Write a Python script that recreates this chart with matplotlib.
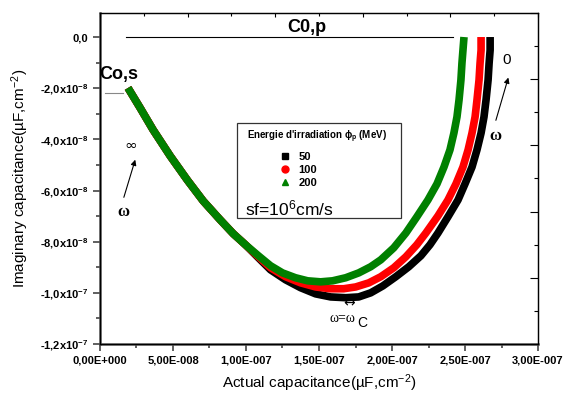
import matplotlib
matplotlib.use("Agg")
import matplotlib.pyplot as plt
from matplotlib.lines import Line2D
from matplotlib.patches import Rectangle
import numpy as np

plt.rcParams['font.family'] = ['Liberation Sans', 'DejaVu Sans']
plt.rcParams['mathtext.fontset'] = 'custom'
plt.rcParams['mathtext.rm'] = 'Liberation Sans'
plt.rcParams['mathtext.bf'] = 'Liberation Sans:bold'
plt.rcParams['mathtext.it'] = 'Liberation Sans:italic'

# values in units of 1e-8 uF/cm2
# common start shared by the three curves
x_common = [1.92, 2.75, 3.64, 4.81, 5.98, 7.07, 8.24, 9.13, 9.96]
y_common = [-1.99, -2.77, -3.63, -4.65, -5.59, -6.41, -7.15, -7.69, -8.12]

x_50 = [10.85, 11.68, 12.71, 13.74, 14.77, 15.80, 16.83, 17.72, 18.54, 19.37, 20.26,
        21.15, 21.98, 22.60, 23.15, 23.83, 24.52, 25.00, 25.48, 25.82, 26.10, 26.30,
        26.44, 26.58, 26.65, 26.72, 26.72]
y_50 = [-8.63, -9.10, -9.49, -9.80, -10.04, -10.16, -10.19, -10.16, -10.00, -9.73, -9.37,
        -8.98, -8.55, -8.12, -7.66, -7.03, -6.37, -5.74, -5.08, -4.41, -3.75, -3.12,
        -2.46, -1.68, -1.02, -0.51, 0.0]

x_100 = [10.85, 11.68, 12.71, 13.74, 14.77, 15.80, 16.69, 17.51, 18.41, 19.23, 20.12,
         20.95, 21.70, 22.32, 23.15, 23.83, 24.38, 24.86, 25.21, 25.48, 25.69, 25.82,
         25.96, 26.03, 26.10, 26.10]
y_100 = [-8.59, -9.02, -9.37, -9.61, -9.77, -9.84, -9.84, -9.77, -9.61, -9.37, -9.02,
         -8.59, -8.12, -7.66, -6.99, -6.37, -5.74, -5.08, -4.41, -3.75, -3.12, -2.46,
         -1.68, -1.02, -0.51, 0.0]

x_200 = [10.85, 11.68, 12.50, 13.39, 14.22, 15.11, 15.93, 16.83, 17.72, 18.54, 19.23,
         20.12, 20.95, 21.70, 22.46, 23.08, 23.56, 23.97, 24.24, 24.45, 24.59, 24.72,
         24.79, 24.86, 24.93]
y_200 = [-8.55, -8.94, -9.22, -9.41, -9.53, -9.57, -9.53, -9.41, -9.22, -8.98, -8.71,
         -8.24, -7.66, -7.03, -6.37, -5.74, -5.08, -4.41, -3.75, -3.12, -2.46, -1.68,
         -1.02, -0.51, 0.0]

energies = ['50', '100', '200']
colors = ['black', 'red', 'green']
markers = ['s', 'o', '^']

xticks = [0, 5, 10, 15, 20, 25, 30]
xtick_labels = ['0,00E+000', '5,00E-008', '1,00E-007', '1,50E-007',
                '2,00E-007', '2,50E-007', '3,00E-007']
yticks = [0, -2, -4, -6, -8, -10, -12]
ytick_labels = ['0,0', r'-2,0x10$^{\mathbf{-8}}$', r'-4,0x10$^{\mathbf{-8}}$',
                r'-6,0x10$^{\mathbf{-8}}$', r'-8,0x10$^{\mathbf{-8}}$',
                r'-1,0x10$^{\mathbf{-7}}$', r'-1,2x10$^{\mathbf{-7}}$']

sc = 1e-8
series = [(x_50, y_50), (x_100, y_100), (x_200, y_200)]

fig = plt.figure(figsize=(5.70, 3.97), dpi=100)
ax = fig.add_axes([0.1754, 0.1335, 0.7685, 0.8338])

for (xs, ys), c in zip(series, colors):
    xx = np.array(x_common + xs) * sc
    yy = np.array(y_common + ys) * sc
    ax.plot(xx, yy, color=c, lw=5.5, solid_capstyle='butt', solid_joinstyle='round')

ax.set_xlim(0, 30 * sc)
ax.set_ylim(-12 * sc, 0.94 * sc)
ax.set_xticks(np.array(xticks) * sc)
ax.set_xticklabels(xtick_labels, fontweight='bold', fontsize=8)
ax.set_yticks(np.array(yticks) * sc)
ax.set_yticklabels(ytick_labels, fontweight='bold', fontsize=8)
ax.set_xticks(np.arange(2.5, 30, 5) * sc, minor=True)
ax.set_yticks(np.arange(-11, 1, 2) * sc, minor=True)
ax.tick_params(which='major', direction='out', length=5, width=1.2, color='#444444')
ax.tick_params(which='minor', direction='out', length=3, width=1.2, color='#444444')
for s in ['left', 'bottom']:
    ax.spines[s].set_linewidth(1.8)
    ax.spines[s].set_color('#555555')
for s in ['top', 'right']:
    ax.spines[s].set_linewidth(0.9)

# top and right frames with their own ticks (inward, no labels)
axt = ax.twiny()
axt.set_xlim(0, 10)
axt.set_xticks(range(0, 11, 2))
axt.set_xticks(range(1, 11, 2), minor=True)
axt.tick_params(which='both', direction='in', labeltop=False, width=0.8)
axt.tick_params(which='major', length=3)
axt.tick_params(which='minor', length=2)
axr = ax.twinx()
axr.set_ylim(0, 10)
axr.set_yticks(range(0, 11, 2))
axr.set_yticks(range(1, 11, 2), minor=True)
axr.tick_params(which='both', direction='in', labelright=False, width=0.8)
axr.tick_params(which='major', length=6)
axr.tick_params(which='minor', length=3)

ax.set_xlabel(r'Actual capacitance(µF,cm$^{-2}$)', fontsize=11, labelpad=5)
ax.set_ylabel(r'Imaginary capacitance(µF,cm$^{-2}$)', fontsize=11, labelpad=6)

# annotations
ax.plot([1.79 * sc, 24.2 * sc], [0, 0], color='black', lw=0.8)
ax.text(14.15 * sc, 0.39 * sc, 'C0,p', fontsize=13, fontweight='bold', ha='center', va='center')
ax.plot([0.34 * sc, 1.58 * sc], [-2.19 * sc, -2.19 * sc], color='#888888', lw=0.8, clip_on=False)
ax.text(1.30 * sc, -1.48 * sc, 'Co,s', fontsize=13, fontweight='bold', ha='center', va='center')

ax.text(2.13 * sc, -4.22 * sc, '∞', fontsize=11, ha='center', va='center', family='DejaVu Sans')
ax.annotate('', xy=(2.47 * sc, -4.69 * sc), xytext=(1.58 * sc, -6.37 * sc),
            arrowprops=dict(arrowstyle='-|>', color='black', lw=0.8, mutation_scale=8))
ax.text(1.58 * sc, -6.85 * sc, 'ω', fontsize=12, fontweight='bold', ha='center', va='center',
        family='Liberation Serif')

ax.text(27.88 * sc, -0.90 * sc, '0', fontsize=11, ha='center', va='center')
ax.annotate('', xy=(28.02 * sc, -1.48 * sc), xytext=(27.06 * sc, -3.36 * sc),
            arrowprops=dict(arrowstyle='-|>', color='black', lw=0.8, mutation_scale=8))
ax.text(27.06 * sc, -3.85 * sc, 'ω', fontsize=12, fontweight='bold', ha='center', va='center',
        family='Liberation Serif')

ax.text(17.03 * sc, -10.40 * sc, '↔', fontsize=10, ha='center', va='center', family='DejaVu Sans')
ax.text(16.62 * sc, -11.02 * sc, 'ω=ω', fontsize=10, ha='center', va='center', family='Liberation Serif')
ax.text(17.60 * sc, -11.17 * sc, 'C', fontsize=10, ha='left', va='center')

# legend box
ax.add_patch(Rectangle((0.313, 0.381), 0.374, 0.287, transform=ax.transAxes,
                       fill=False, edgecolor='#333333', lw=0.9, zorder=5))
ax.text(0.336, 0.625, r"Energie d'irradiation $\mathbf{\phi}_{\mathbf{p}}$ (MeV)",
        transform=ax.transAxes, fontsize=7, fontweight='bold', va='center', ha='left')
handles = [Line2D([], [], color=c, marker=m, ls='none', markersize=5) for c, m in zip(colors, markers)]
ax.legend(handles, energies, loc='upper left', bbox_to_anchor=(0.385, 0.61), frameon=False,
          handlelength=1.2, handletextpad=0.6, labelspacing=0.25,
          prop={'weight': 'bold', 'size': 8})
ax.text(0.331, 0.411, r'sf=10$^6$cm/s', transform=ax.transAxes, fontsize=12.5,
        va='center', ha='left')

fig.savefig('out.png', dpi=100)
